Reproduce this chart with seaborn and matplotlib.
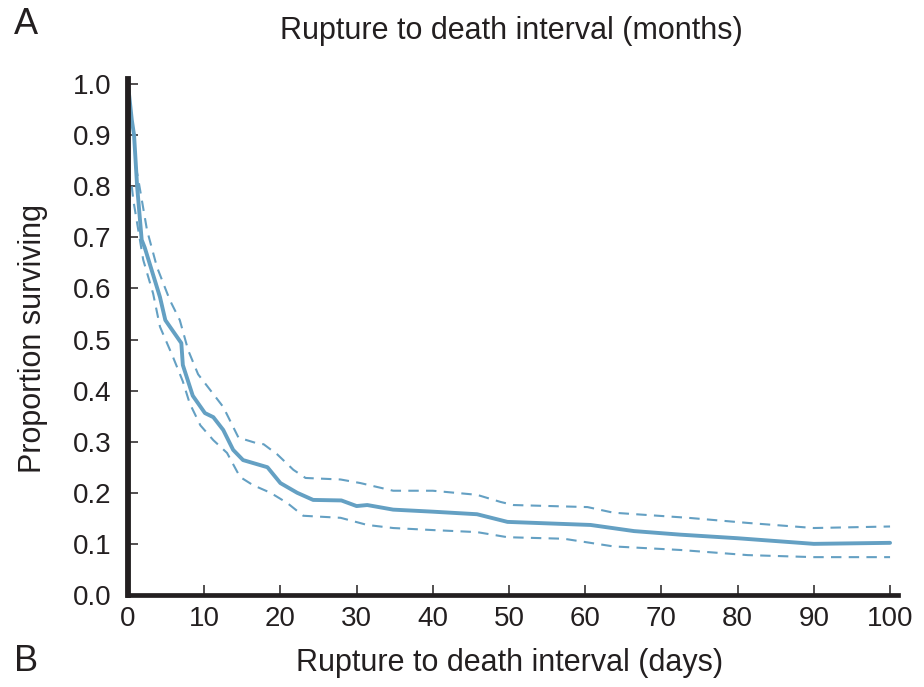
import numpy as np
import pandas as pd
import matplotlib
matplotlib.use("Agg")
import matplotlib.pyplot as plt
import seaborn as sns

# Kaplan-Meier estimate (days, proportion surviving)
days = [0, 0.5, 0.8, 1.2, 1.8, 2.2, 4.2, 4.9, 7.0, 7.2, 8.5, 10.1, 11.2, 12.5,
        13.8, 15.1, 18.3, 20.0, 22.2, 24.3, 28.0, 30.0, 31.4, 34.8, 40.0,
        45.8, 49.8, 60.7, 66.4, 72.5, 80.0, 90.0, 100.0]
surv = [1.0, 0.93, 0.90, 0.80, 0.695, 0.68, 0.583, 0.538, 0.493, 0.45, 0.39,
        0.356, 0.348, 0.323, 0.284, 0.264, 0.25, 0.219, 0.2, 0.186, 0.185,
        0.174, 0.176, 0.167, 0.163, 0.158, 0.143, 0.137, 0.125, 0.118, 0.111,
        0.1, 0.102]

# upper 95% band
days_hi = [1.0, 1.3, 2.5, 3.8, 5.5, 6.8, 7.9, 9.2, 10.8, 12.5, 14.5, 16.9,
           17.8, 19.6, 21.7, 23.3, 27.9, 30.5, 34.8, 40.0, 45.8, 48.9, 50.6,
           60.3, 63.7, 73.5, 81.3, 90.0, 100.0]
surv_hi = [0.84, 0.818, 0.714, 0.642, 0.577, 0.538, 0.479, 0.432, 0.401,
           0.368, 0.308, 0.297, 0.295, 0.275, 0.245, 0.229, 0.226, 0.219,
           0.204, 0.204, 0.196, 0.182, 0.176, 0.172, 0.161, 0.151, 0.141,
           0.131, 0.134]

# lower 95% band
days_lo = [0.5, 0.7, 2.0, 3.3, 4.2, 5.9, 7.2, 8.1, 9.5, 11.2, 13.0, 14.7, 16.4,
           18.7, 20.9, 23.0, 27.9, 31.4, 34.8, 40.0, 45.8, 49.8, 57.2, 63.7,
           72.5, 81.3, 90.0, 100.0]
surv_lo = [0.80, 0.773, 0.656, 0.59, 0.525, 0.466, 0.418, 0.375, 0.332, 0.303,
           0.278, 0.231, 0.215, 0.200, 0.180, 0.155, 0.151, 0.137, 0.131,
           0.127, 0.123, 0.113, 0.110, 0.095, 0.088, 0.078, 0.074, 0.074]

xticks = [0, 10, 20, 30, 40, 50, 60, 70, 80, 90, 100]
yticks = [0.0, 0.1, 0.2, 0.3, 0.4, 0.5, 0.6, 0.7, 0.8, 0.9, 1.0]

sns.set_style("ticks")
plt.rcParams["font.family"] = ["Liberation Sans", "DejaVu Sans"]

line_col = "#64a0c3"
ink = "#231f20"

fig = plt.figure(figsize=(9.24, 6.87), dpi=100)
ax = fig.add_axes([0.1385, 0.134, 0.833, 0.751])

sns.lineplot(x=days, y=surv, ax=ax, color=line_col, lw=2.8, sort=False,
             solid_joinstyle="round", solid_capstyle="round")
sns.lineplot(x=days_hi, y=surv_hi, ax=ax, color=line_col, lw=1.5,
             linestyle=(0, (5, 3.5)), sort=False)
sns.lineplot(x=days_lo, y=surv_lo, ax=ax, color=line_col, lw=1.5,
             linestyle=(0, (5, 3.5)), sort=False)

ax.set_xlim(0, 101)
ax.set_ylim(0, 1.01)
ax.set_xticks(xticks)
ax.set_yticks(yticks)
ax.set_yticklabels([f"{v:.1f}" for v in yticks])
ax.set_xlabel("")
ax.set_ylabel("")

sns.despine(ax=ax)
ax.spines["left"].set_linewidth(4.2)
ax.spines["bottom"].set_linewidth(3.4)
ax.spines["left"].set_color(ink)
ax.spines["bottom"].set_color(ink)
ax.tick_params(axis="both", direction="in", length=7, width=1.1,
               color=ink, labelsize=20, labelcolor=ink)
ax.tick_params(axis="x", pad=8)
ax.tick_params(axis="y", pad=12)

fig.text(0.553, 0.955, "Rupture to death interval (months)", ha="center",
         va="center", fontsize=22, color=ink)
fig.text(0.551, 0.035, "Rupture to death interval (days)", ha="center",
         va="center", fontsize=22, color=ink)
fig.text(0.036, 0.508, "Proportion surviving", ha="center", va="center",
         rotation=90, fontsize=22, color=ink)
fig.text(0.028, 0.964, "A", ha="center", va="center", fontsize=26,
         color=ink)
fig.text(0.028, 0.037, "B", ha="center", va="center", fontsize=26,
         color=ink)

fig.savefig("out.png", dpi=100)
